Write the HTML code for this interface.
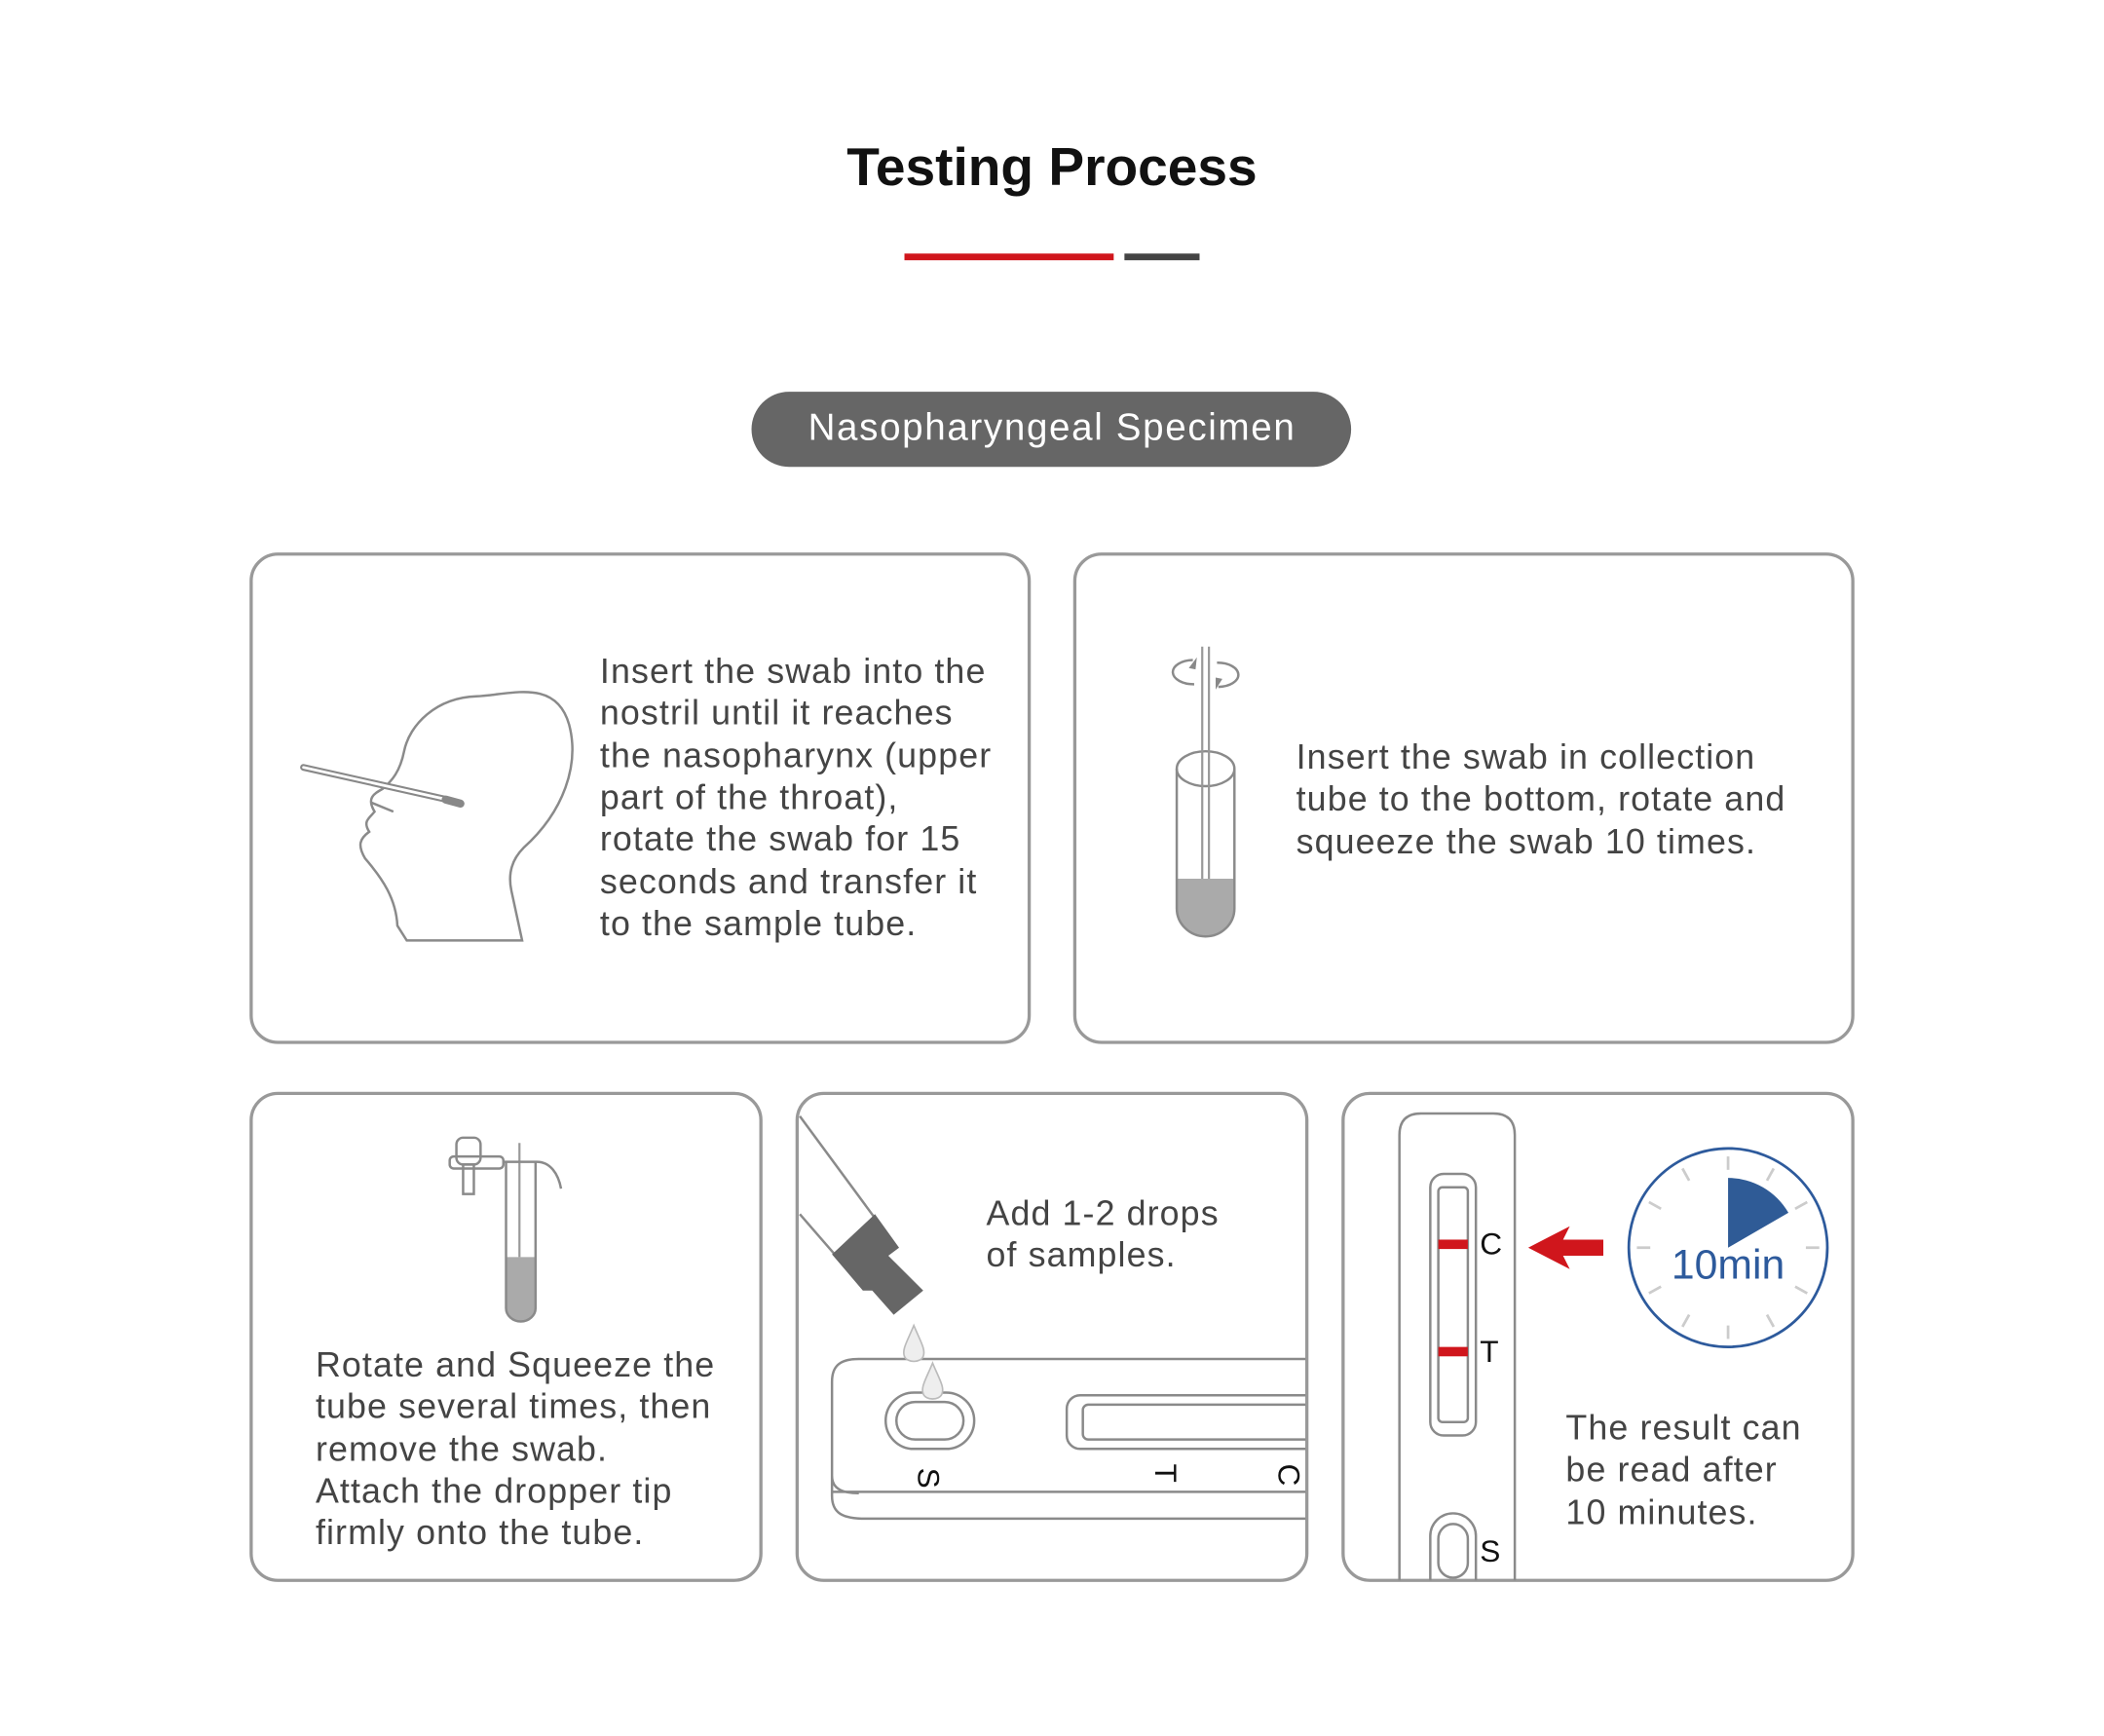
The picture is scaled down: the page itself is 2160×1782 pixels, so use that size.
<!DOCTYPE html>
<html><head><meta charset="utf-8"><style>
html,body{margin:0;padding:0;background:#fff}
svg{display:block}
text{font-family:"Liberation Sans",sans-serif}
.b{fill:none;stroke:#999;stroke-width:2.4}
.t{font-size:26px;fill:#444;letter-spacing:0.8px}
.l{fill:none;stroke:#8a8a8a;stroke-width:1.8}
</style></head><body>
<svg width="2160" height="1782" viewBox="0 0 1568 1294" xmlns="http://www.w3.org/2000/svg">
<rect width="1568" height="1294" fill="#fff"/>
<text x="784" y="138" text-anchor="middle" font-size="40" font-weight="bold" fill="#111">Testing Process</text>
<rect x="674" y="189" width="156" height="5" fill="#d0161c"/>
<rect x="838" y="189" width="56" height="5" fill="#444"/>
<rect x="560" y="292" width="447" height="56" rx="28" fill="#666"/>
<text x="784" y="328" text-anchor="middle" font-size="28" fill="#fff" letter-spacing="1.2">Nasopharyngeal Specimen</text>

<rect class="b" x="187" y="413" width="580" height="364" rx="20"/>
<rect class="b" x="801" y="413" width="580" height="364" rx="20"/>
<rect class="b" x="187" y="815" width="380" height="363" rx="20"/>
<rect class="b" x="594" y="815" width="380" height="363" rx="20"/>
<rect class="b" x="1001" y="815" width="380" height="363" rx="20"/>

<!-- head -->
<path class="l" d="M303,701 L389,701 L381,664 C378,650 382,640 390,632 C420,605 432,570 424,540 C414,505 380,518 355,519 C325,520 305,540 301,560 C298,575 292,582 285,588 C278,592 273,595 279,605 C275,610 270,612 275,620 C268,625 266,630 272,640 C285,655 295,670 296,690 Z"/>
<path class="l" d="M276,598 L293,605"/>
<line x1="226" y1="572" x2="333" y2="596" stroke="#888" stroke-width="5" stroke-linecap="round"/>
<line x1="226" y1="572" x2="333" y2="596" stroke="#fff" stroke-width="2" stroke-linecap="round"/>
<line x1="332" y1="596" x2="343" y2="599" stroke="#888" stroke-width="6" stroke-linecap="round"/>
<g class="t">
<text x="447" y="509">Insert the swab into the</text>
<text x="447" y="540">nostril until it reaches</text>
<text x="447" y="572">the nasopharynx (upper</text>
<text x="447" y="603">part of the throat),</text>
<text x="447" y="634">rotate the swab for 15</text>
<text x="447" y="666">seconds and transfer it</text>
<text x="447" y="697">to the sample tube.</text>
</g>

<!-- tube box2 -->
<path d="M877,655 L920,655 L920,677 A21.5,21 0 0 1 877,677 Z" fill="#aaa"/>
<path class="l" d="M877,573 L877,677 A21.5,21 0 0 0 920,677 L920,573"/>
<ellipse class="l" cx="898.5" cy="573" rx="21.5" ry="13"/>
<line x1="896" y1="482" x2="896" y2="655" stroke="#999" stroke-width="1.6"/>
<line x1="901" y1="482" x2="901" y2="655" stroke="#999" stroke-width="1.6"/>
<path class="l" d="M890,510 A12,7 0 0 1 889,492 M907,494 A12,7 0 0 1 908,512"/>
<path d="M886,498 l6,-8 l-1,9z M911,506 l-5,8 l0,-9z" fill="#888"/>
<g class="t">
<text x="966" y="573">Insert the swab in collection</text>
<text x="966" y="604">tube to the bottom, rotate and</text>
<text x="966" y="636">squeeze the swab 10 times.</text>
</g>

<!-- box3 tube -->
<path d="M377,937 L399,937 L399,975 A11,10 0 0 1 377,975 Z" fill="#aaa"/>
<path class="l" d="M377,866 L377,975 A11,10 0 0 0 399,975 L399,866"/>
<line x1="387" y1="852" x2="387" y2="937" stroke="#999" stroke-width="1.6"/>
<rect class="l" x="340" y="848" width="18" height="20" rx="5"/>
<rect class="l" x="345" y="868" width="8" height="22"/>
<rect class="l" x="335" y="862" width="40" height="9" rx="3"/>
<path class="l" d="M375,866 L400,866 C410,866 416,875 418,886"/>
<g class="t">
<text x="235" y="1026">Rotate and Squeeze the</text>
<text x="235" y="1057">tube several times, then</text>
<text x="235" y="1089">remove the swab.</text>
<text x="235" y="1120">Attach the dropper tip</text>
<text x="235" y="1151">firmly onto the tube.</text>
</g>

<!-- box4 -->
<defs><clipPath id="c4"><rect x="595" y="816" width="378" height="361" rx="19"/></clipPath></defs>
<g clip-path="url(#c4)">
<path class="l" d="M596,832 L652,908 M596,905 L622,935"/>
<path d="M620,935 L652,905 L670,930 L662,936 L688,962 L666,980 L650,962 L643,962 Z" fill="#666"/>
<path class="l" d="M620,1112 L974,1112" />
<path class="l" d="M640,1013 L974,1013 M620,1030 C620,1018 626,1013 640,1013 M620,1030 L620,1100 C620,1110 628,1113 640,1113 M620,1100 L620,1115 C620,1128 628,1132 645,1132 L974,1132"/>
<rect class="l" x="660" y="1038" width="66" height="42" rx="21"/>
<rect class="l" x="668" y="1045" width="50" height="28" rx="14"/>
<rect class="l" x="795" y="1040" width="190" height="40" rx="10"/>
<rect class="l" x="807" y="1047" width="180" height="26" rx="4"/>
<path d="M681,988 C676,1000 672,1006 674,1011 C676,1016 686,1016 688,1011 C690,1006 686,1000 681,988Z" fill="#eee" stroke="#bbb" stroke-width="1.2"/>
<path d="M695,1016 C690,1028 686,1034 688,1039 C690,1044 700,1044 702,1039 C704,1034 700,1028 695,1016Z" fill="#eee" stroke="#bbb" stroke-width="1.2"/>
<text transform="translate(684,1094) rotate(90)" font-size="23" fill="#111">S</text>
<text transform="translate(861,1091) rotate(90)" font-size="23" fill="#111">T</text>
<text transform="translate(953,1091) rotate(90)" font-size="23" fill="#111">C</text>
</g>
<g class="t">
<text x="735" y="913">Add 1-2 drops</text>
<text x="735" y="944">of samples.</text>
</g>

<!-- box5 -->
<path class="l" d="M1043,1178 L1043,846 Q1043,830 1059,830 L1113,830 Q1129,830 1129,846 L1129,1178"/>
<rect class="l" x="1066" y="875" width="34" height="195" rx="10"/>
<rect class="l" x="1072" y="885" width="22" height="175" rx="3"/>
<rect x="1072" y="924" width="22" height="7" fill="#d0161c"/>
<rect x="1072" y="1004" width="22" height="7" fill="#d0161c"/>
<path class="l" d="M1066,1178 L1066,1145 A17,17 0 0 1 1100,1145 L1100,1178"/>
<rect class="l" x="1072" y="1136" width="22" height="40" rx="11"/>
<text x="1103" y="935" font-size="23" fill="#111">C</text>
<text x="1103" y="1015" font-size="23" fill="#111">T</text>
<text x="1103" y="1164" font-size="23" fill="#111">S</text>
<path d="M1139,930 L1170,914 L1165,924 L1195,924 L1195,936 L1165,936 L1170,946 Z" fill="#d0161c"/>
<circle cx="1288" cy="930" r="74" fill="none" stroke="#2d5a9c" stroke-width="2"/>
<path d="M1288,930 L1288,878 A52,52 0 0 1 1333,904 Z" fill="#2f5b96"/>
<g stroke="#ccc" stroke-width="2">
<line x1="1288" y1="862" x2="1288" y2="872"/><line x1="1288" y1="988" x2="1288" y2="998"/>
<line x1="1220" y1="930" x2="1230" y2="930"/><line x1="1346" y1="930" x2="1356" y2="930"/>
<line x1="1254" y1="871" x2="1259" y2="880"/><line x1="1322" y1="989" x2="1317" y2="980"/>
<line x1="1229" y1="896" x2="1238" y2="901"/><line x1="1347" y1="964" x2="1338" y2="959"/>
<line x1="1229" y1="964" x2="1238" y2="959"/><line x1="1254" y1="989" x2="1259" y2="980"/>
<line x1="1322" y1="871" x2="1317" y2="880"/><line x1="1347" y1="896" x2="1338" y2="901"/>
</g>
<text x="1288" y="953" text-anchor="middle" font-size="31" fill="#2d5a9c">10min</text>
<g class="t">
<text x="1167" y="1073">The result can</text>
<text x="1167" y="1104">be read after</text>
<text x="1167" y="1136">10 minutes.</text>
</g>
</svg>
</body></html>
